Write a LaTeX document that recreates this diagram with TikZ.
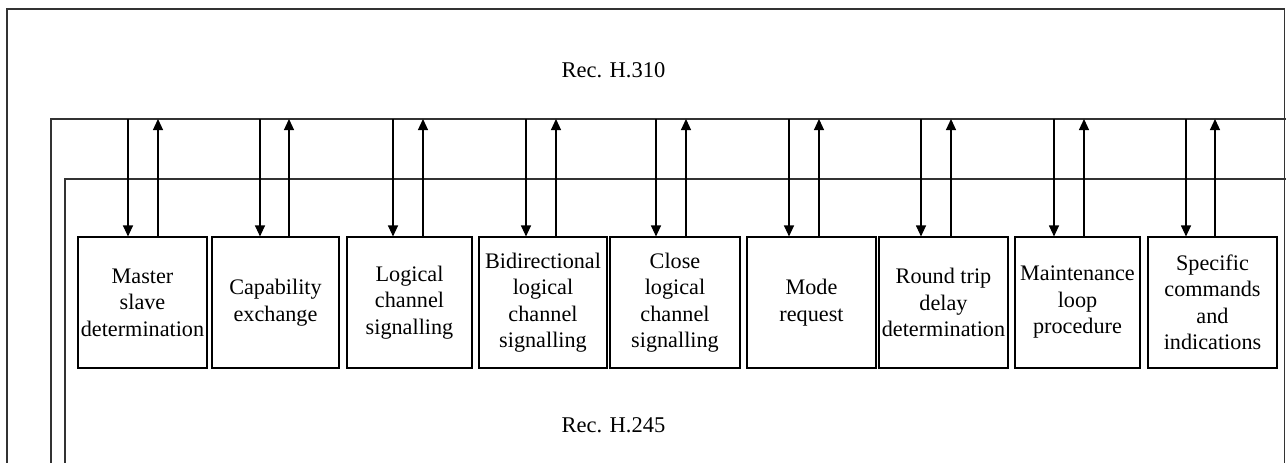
\documentclass[tikz,border=0pt]{standalone}
\usepackage{fontspec}
\setmainfont{Liberation Serif}
\usetikzlibrary{arrows.meta}
\tikzset{
  frame/.style={line width=1.1pt, draw=black!80},
  blockbox/.style={draw, line width=1.1pt, minimum height=131pt, inner sep=0pt, align=center,
    font=\fontsize{22.2}{26.5}\selectfont},
  sig/.style={line width=1.1pt, -{Triangle[length=11pt,width=10pt]}},
  lbl/.style={font=\fontsize{22.5}{27}\selectfont, anchor=base, inner sep=0pt}
}
\begin{document}
\begin{tikzpicture}[x=1pt,y=-1pt]
\useasboundingbox (0,0) rectangle (1286,463);
% frames
\draw[frame] (7,463) -- (7,9) -- (1284.5,9) -- (1284.5,463);
\draw[frame] (51,463) -- (51,119) -- (1286,119);
\draw[frame] (65,463) -- (65,179) -- (1286,179);
\node[lbl] (h310) at (613.5,77) {Rec. H.310};
\node[lbl] (h245) at (613.5,432) {Rec. H.245};
% boxes
\node[blockbox, minimum width=129pt] (b1) at (142.5,302.5) {Master\\slave\\determination};
\node[blockbox, minimum width=127pt] (b2) at (275.5,302.5) {Capability\\exchange};
\node[blockbox, minimum width=125pt] (b3) at (409.5,302.5) {Logical\\channel\\signalling};
\node[blockbox, minimum width=128pt] (b4) at (543,302.5) {Bidirectional\\logical\\channel\\signalling};
\node[blockbox, minimum width=130pt] (b5) at (675,302.5) {Close\\logical\\channel\\signalling};
\node[blockbox, minimum width=129pt] (b6) at (811.5,302.5) {Mode\\request};
\node[blockbox, minimum width=129pt] (b7) at (943.5,302.5) {Round trip\\delay\\determination};
\node[blockbox, minimum width=125pt] (b8) at (1077.5,302.5) {Maintenance\\loop\\procedure};
\node[blockbox, minimum width=129pt] (b9) at (1212.5,302.5) {Specific\\commands\\and\\indications};
% signal coordinates on the H.310 line
\foreach \i/\d/\u in {1/128/158, 2/260/289, 3/393/423, 4/526/556, 5/656/686, 6/789/819, 7/921/951, 8/1054/1084, 9/1186/1215}{
  \coordinate (d\i) at (\d,119);
  \coordinate (u\i) at (\u,119);
  \draw[sig] (d\i) -- (d\i |- b\i.north);
  \draw[sig] (u\i |- b\i.north) -- (u\i);
}
\end{tikzpicture}
\end{document}
